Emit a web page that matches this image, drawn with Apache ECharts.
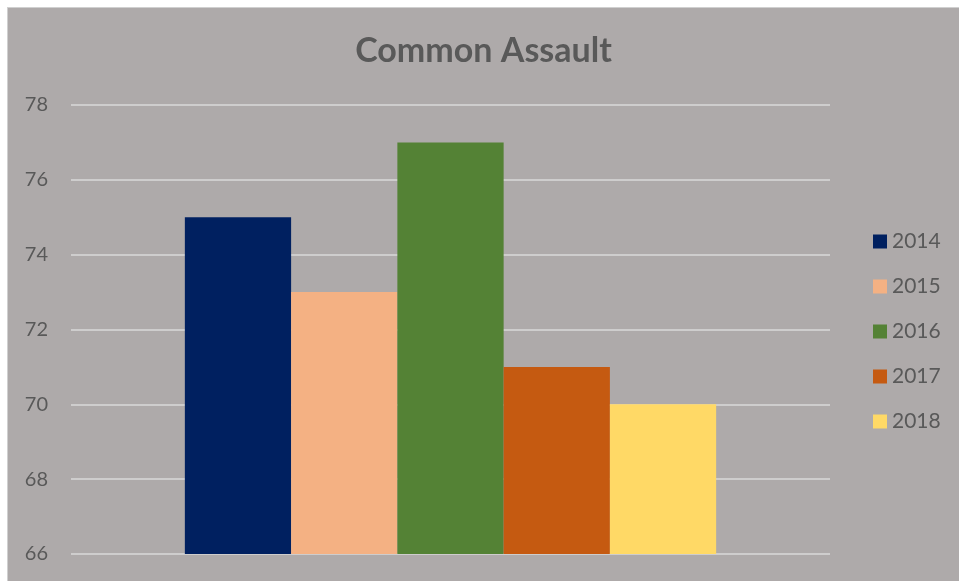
<!DOCTYPE html>
<html><head><meta charset="utf-8">
<script src="https://cdn.jsdelivr.net/npm/echarts@6/dist/echarts.min.js"></script>
<style>
html,body{margin:0;padding:0;background:#fff;width:959px;height:581px;overflow:hidden}
#c{position:absolute;left:7px;top:7px;width:952px;height:574px;border-left:1px solid #d0d0d0;border-top:1px solid #d0d0d0;box-sizing:border-box}
</style></head><body>
<div id="c"></div>
<script>
const categories = ['Common Assault'];
const seriesNames = ['2014','2015','2016','2017','2018'];
const values2014 = [75];
const values2015 = [73];
const values2016 = [77];
const values2017 = [71];
const values2018 = [70];
const allValues = [values2014, values2015, values2016, values2017, values2018];
const colors = ['#002060','#F4B183','#548235','#C55A11','#FFD966'];
const chart = echarts.init(document.getElementById('c'));
const font = 'Lato, "Open Sans", sans-serif';
chart.setOption({
  backgroundColor: '#AEAAAA',
  animation: false,
  title: {text: 'Common Assault', left: 'center', top: 26, padding: 0,
    textStyle: {fontFamily: font, fontSize: 34, fontWeight: 'bold', color: '#595959'}},
  legend: {orient: 'vertical', left: 865, top: 223, itemWidth: 14, itemHeight: 14, itemGap: 24,
    icon: 'rect', data: seriesNames, padding: 0,
    textStyle: {fontFamily: font, fontSize: 21, color: '#595959', lineHeight: 20}},
  grid: {left: 63, right: 129, top: 97, bottom: 27},
  xAxis: {type: 'category', data: categories, axisLine: {show: false}, axisTick: {show: false}, axisLabel: {show: false}},
  yAxis: {type: 'value', min: 66, max: 78, interval: 2,
    axisLabel: {fontFamily: font, fontSize: 20, color: '#595959', margin: 23},
    splitLine: {lineStyle: {color: '#D9D9D9', width: 1.5}}},
  series: seriesNames.map((n, i) => ({name: n, type: 'bar', data: allValues[i], barGap: '0%', barCategoryGap: '30%', itemStyle: {color: colors[i]}}))
});
</script></body></html>
